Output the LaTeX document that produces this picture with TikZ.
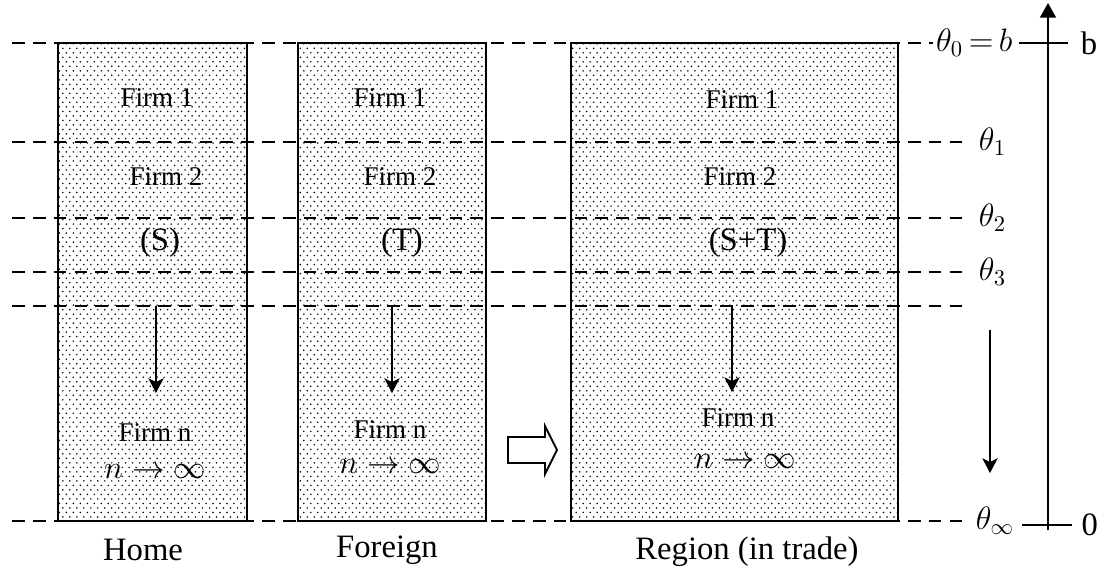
\documentclass[tikz,border=0pt]{standalone}
\usepackage{fontspec}
\setmainfont{Liberation Serif}
\usetikzlibrary{patterns,arrows.meta}

% fine staggered dots for the firm columns
\pgfdeclarepatternformonly{firm dots}{\pgfqpoint{-0.5pt}{-0.5pt}}{\pgfqpoint{2.1pt}{2.5pt}}{\pgfqpoint{3.1pt}{4pt}}{%
    \pgfpathcircle{\pgfqpoint{0pt}{0pt}}{0.38pt}%
    \pgfpathcircle{\pgfqpoint{1.55pt}{2pt}}{0.38pt}%
    \pgfusepath{fill}}

\tikzstyle{firm box}=[
    draw,
    line width = 1pt,
    pattern = firm dots
]
\tikzstyle{cut line}=[
    line width = 0.8pt,
    dash pattern = on 2mm off 1.25mm
]
\tikzstyle{firm text}=[
    inner sep = 1pt,
    font = \fontsize{12}{14}\selectfont
]
\tikzstyle{big text}=[
    inner sep = 1pt,
    font = \fontsize{14.5}{17}\selectfont
]
\tikzstyle{down}=[
    line width = 0.8pt,
    -{Stealth[length=2.3mm, width=2.4mm, inset=0.6mm]}
]

\begin{document}
\begin{tikzpicture}[x=1.56mm, y=1.56mm]
        \useasboundingbox (0,0) rectangle (110.7,57.1);

        % the three columns of firms
        \draw[firm box] (5.8,5.0) rectangle (24.7,52.8);
        \draw[firm box] (29.8,5.0) rectangle (48.6,52.8);
        \draw[firm box] (57.1,5.0) rectangle (89.8,52.8);

        % cut-off levels
        \draw[cut line] (1.2,52.8) -- (93.3,52.8) node[big text, anchor=west] (t0) {$\theta_0\,{=}\,b$};
        \draw[cut line] (1.2,42.9) -- (96.3,42.9) node[big text, anchor=west, xshift=2mm] (t1) {$\theta_1$};
        \draw[cut line] (1.2,35.3) -- (96.3,35.3) node[big text, anchor=west, xshift=2mm] (t2) {$\theta_2$};
        \draw[cut line] (1.2,29.9) -- (96.3,29.9) node[big text, anchor=west, xshift=2mm] (t3) {$\theta_3$};
        \draw[cut line] (1.2,26.5) -- (96.3,26.5);
        \draw[cut line] (1.2,5.0) -- (96.3,5.0) node[big text, anchor=west, xshift=1.5mm] (tinf) {$\theta_\infty$};

        % Home
        \node[firm text] (h1) at (15.7,47.3) {Firm 1};
        \node[firm text] (h2) at (16.6,39.4) {Firm 2};
        \node[big text] (hs) at (16.0,32.8) {(S)};
        \node[firm text] (hn) at (15.5,13.8) {Firm n};
        \node[big text] (hl) at (15.5,9.9) {$n \rightarrow \infty$};
        \node[big text] (home) at (14.3,2.1) {Home};
        \coordinate (ha) at (15.6,26.5);
        \coordinate (hb) at (15.6,17.8);
        \draw[down] (ha) -- (hb);

        % Foreign
        \node[firm text] (f1) at (39.0,47.3) {Firm 1};
        \node[firm text] (f2) at (40.0,39.4) {Firm 2};
        \node[big text] (ft) at (40.2,32.8) {(T)};
        \node[firm text] (fn) at (39.0,14.1) {Firm n};
        \node[big text] (fl) at (39.0,10.4) {$n \rightarrow \infty$};
        \node[big text] (foreign) at (38.7,2.1) {Foreign};
        \coordinate (fa) at (39.2,26.5);
        \coordinate (fb) at (39.2,17.8);
        \draw[down] (fa) -- (fb);

        % hollow arrow into the region
        \draw[line width=0.8pt, fill=white] (50.8,13.4) -- (54.5,13.4) -- (54.5,14.5) -- (55.7,12.1)
            -- (54.5,9.7) -- (54.5,10.8) -- (50.8,10.8) -- cycle;

        % Region
        \node[firm text] (r1) at (74.2,47.1) {Firm 1};
        \node[firm text] (r2) at (74.0,39.4) {Firm 2};
        \node[big text] (rst) at (74.8,32.8) {(S+T)};
        \node[firm text] (rn) at (73.8,15.3) {Firm n};
        \node[big text] (rl) at (74.5,10.9) {$n \rightarrow \infty$};
        \node[big text] (region) at (74.7,1.9) {Region (in trade)};
        \coordinate (ra) at (73.2,26.5);
        \coordinate (rb) at (73.2,17.9);
        \draw[down] (ra) -- (rb);

        % ranking direction
        \coordinate (da) at (99.0,24.1);
        \coordinate (db) at (99.0,9.8);
        \draw[down] (da) -- (db);

        % productivity axis
        \coordinate (ax0) at (104.8,4.1);
        \coordinate (ax1) at (104.8,56.8);
        \draw[line width=0.8pt, -{Triangle[length=2.3mm, width=2.5mm]}] (ax0) -- (ax1);
        \coordinate (bl) at (101.9,52.8);
        \coordinate (br) at (106.8,52.8);
        \draw[line width=0.8pt] (bl) -- (br) node[big text, anchor=west, xshift=1.5mm] (bval) {b};
        \coordinate (zl) at (102.2,4.6);
        \coordinate (zr) at (107.2,4.6);
        \draw[line width=0.8pt] (zl) -- (zr) node[big text, anchor=west, xshift=1mm] (zval) {0};

    \end{tikzpicture}
\end{document}
